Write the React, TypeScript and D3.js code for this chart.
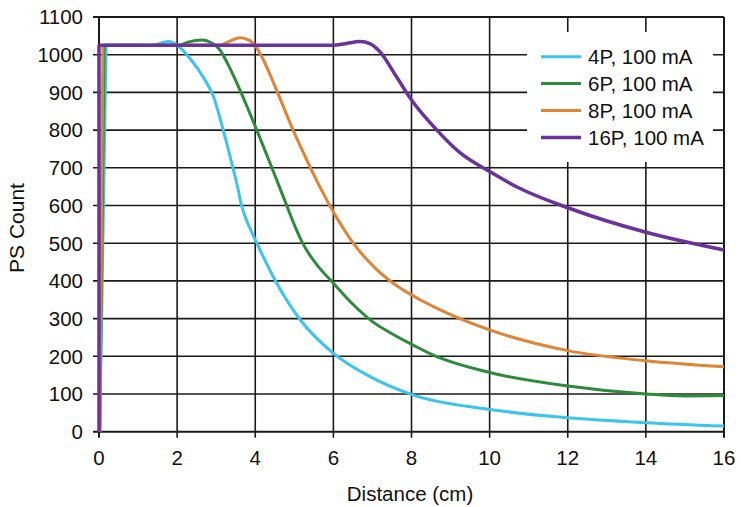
import React from "react";
import * as d3 from "d3";

const xTicks = [0, 2, 4, 6, 8, 10, 12, 14, 16];
const yTicks = [0, 100, 200, 300, 400, 500, 600, 700, 800, 900, 1000, 1100];

const seriesNames = ["4P, 100 mA", "6P, 100 mA", "8P, 100 mA", "16P, 100 mA"];
const seriesColors = ["#3cc3ee", "#2e8b3c", "#e08435", "#6a3399"];

const x4 = [0.02, 0.18, 1.4, 1.6, 1.8, 2.0, 2.33, 2.67, 2.93, 3.18, 3.4, 3.55, 3.65, 3.78, 3.92, 4.04, 4.55, 5.15, 6.0, 6.94, 8.05, 10, 12, 14, 16];
const v4 = [0, 1025, 1025, 1031, 1035, 1025, 990, 940, 889, 800, 712, 648, 600, 560, 527, 500, 394, 297, 208, 146, 97, 59, 37, 24, 15];

const x6 = [0.02, 0.13, 2.05, 2.3, 2.63, 2.85, 3.1, 3.3, 3.55, 3.8, 4.04, 4.38, 4.72, 5.02, 5.2, 5.4, 5.6, 6.0, 6.5, 7.0, 7.5, 8.0, 8.56, 10, 12, 14, 15, 16];
const v6 = [0, 1025, 1025, 1034, 1039, 1033, 1012, 975, 920, 860, 800, 712, 623, 544, 503, 468, 440, 394, 338, 292, 260, 232, 203, 157, 121, 100, 95, 96];

const x8 = [0.02, 0.1, 3.1, 3.35, 3.61, 3.85, 4.0, 4.2, 4.45, 4.63, 4.97, 5.36, 5.7, 6.06, 6.51, 7.11, 7.71, 8.22, 8.56, 10, 12, 14, 16];
const v8 = [0, 1025, 1025, 1036, 1045, 1038, 1024, 988, 930, 885, 800, 712, 640, 572, 500, 430, 381, 350, 332, 270, 215, 188, 172];

const x16 = [0, 0, 6.0, 6.3, 6.68, 6.95, 7.19, 7.6, 8.0, 8.65, 9.24, 10, 10.78, 12, 14, 16];
const v16 = [0, 1025, 1025, 1029, 1035, 1029, 1008, 944, 880, 800, 740, 690, 645, 594, 529, 482];

const seriesX = [x4, x6, x8, x16];
const seriesV = [v4, v6, v8, v16];

const W = 741;
const H = 507;

export default function App() {
  const x = d3.scaleLinear().domain([0, 16]).range([99, 724]);
  const y = d3.scaleLinear().domain([0, 1100]).range([431.7, 17]);

  const lin = d3
    .line<[number, number]>()
    .x((d) => x(d[0]))
    .y((d) => y(d[1]))
    .curve(d3.curveLinear);
  const smooth = d3
    .line<[number, number]>()
    .x((d) => x(d[0]))
    .y((d) => y(d[1]))
    .curve(d3.curveMonotoneX);

  const paths = seriesX.map((xs, i) => {
    const pts: [number, number][] = xs.map((xv, j) => [xv, seriesV[i][j]]);
    return (lin(pts.slice(0, 2)) || "") + (smooth(pts.slice(1)) || "");
  });

  const font = "'Liberation Sans', Arial, Helvetica, sans-serif";
  const gridColor = "#1a1a1a";

  const legX = 527;
  const legY = 32;
  const legRows = [56.7, 83.5, 110.5, 137.5];

  return (
    <svg
      width={W}
      height={H}
      style={{ position: "absolute", left: 0, top: 0, background: "#fff" }}
      fontFamily={font}
    >
      <rect x={0} y={0} width={W} height={H} fill="#fff" />
      {yTicks.map((t) => (
        <line
          key={"h" + t}
          x1={x(0) - 6}
          x2={x(16)}
          y1={y(t)}
          y2={y(t)}
          stroke={gridColor}
          strokeWidth={t === 0 || t === 1100 ? 2 : 1.6}
        />
      ))}
      {xTicks.map((t) => (
        <line
          key={"v" + t}
          x1={x(t)}
          x2={x(t)}
          y1={y(1100)}
          y2={y(0) + 6}
          stroke={gridColor}
          strokeWidth={t === 0 || t === 16 ? 2 : 1.6}
        />
      ))}
      <rect x={legX} y={legY} width={186} height={130} fill="#fff" />
      {yTicks.map((t) => (
        <text
          key={"yl" + t}
          x={83}
          y={y(t)}
          dy="0.36em"
          textAnchor="end"
          fontSize={20.5}
          fill="#111"
        >
          {t}
        </text>
      ))}
      {xTicks.map((t) => (
        <text
          key={"xl" + t}
          x={x(t)}
          y={464.5}
          textAnchor="middle"
          fontSize={20.5}
          fill="#111"
        >
          {t}
        </text>
      ))}
      {paths.map((d, i) => (
        <path
          key={"p" + i}
          d={d}
          fill="none"
          stroke={seriesColors[i]}
          strokeWidth={i === 3 ? 3.5 : 3}
          strokeLinejoin="round"
        />
      ))}
      {seriesNames.map((n, i) => (
        <g key={"lg" + i}>
          <line
            x1={541}
            x2={581}
            y1={legRows[i]}
            y2={legRows[i]}
            stroke={seriesColors[i]}
            strokeWidth={i === 3 ? 3.5 : 3}
          />
          <text x={588} y={legRows[i]} dy="0.36em" fontSize={20.5} fill="#111">
            {n}
          </text>
        </g>
      ))}
      <text
        transform={`translate(24,228) rotate(-90)`}
        textAnchor="middle"
        fontSize={21}
        fill="#111"
      >
        PS Count
      </text>
      <text x={410} y={501} textAnchor="middle" fontSize={20.5} fill="#111">
        Distance (cm)
      </text>
    </svg>
  );
}
